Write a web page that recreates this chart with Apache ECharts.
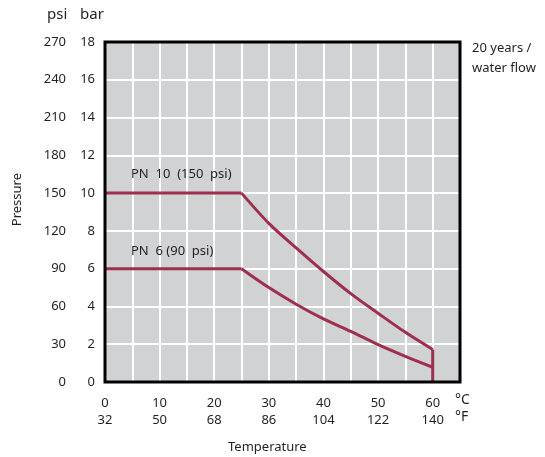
<!DOCTYPE html>
<html>
<head>
<meta charset="utf-8">
<script src="https://cdn.jsdelivr.net/npm/echarts@6/dist/echarts.min.js"></script>
<style>
    html, body { margin: 0; padding: 0; background: #fff; }
    #chart { width: 545px; height: 457px; }
</style>
</head>
<body>
<div id="chart"></div>
<script>
    // temperature (°C) and allowed pressure (bar)
    const tempC = [0, 25, 30, 35, 40, 45, 50, 55, 60];
    const pn10Bar = [10, 10, 8.4, 7.1, 5.85, 4.68, 3.64, 2.63, 1.72];
    const pn6Bar = [6, 6, 5.0, 4.12, 3.34, 2.68, 1.98, 1.36, 0.78];

    // tick labels
    const celsiusTicks = [0, 10, 20, 30, 40, 50, 60];
    const fahrenheitTicks = [32, 50, 68, 86, 104, 122, 140];
    const barTicks = [0, 2, 4, 6, 8, 10, 12, 14, 16, 18];
    const psiTicks = [0, 30, 60, 90, 120, 150, 180, 210, 240, 270];

    const lineColor = '#9e2f4e';
    const textColor = '#231f20';
    const font = 'Noto Sans';

    let pn10Data = tempC.map((t, i) => [t, pn10Bar[i]]);
    let pn6Data = tempC.map((t, i) => [t, pn6Bar[i]]);
    let last = tempC.length - 1;

    // flat part straight, falling part smooth
    function part(name, data, smooth) {
        return {
            name: name,
            type: 'line',
            data: data,
            symbol: 'none',
            smooth: smooth,
            lineStyle: { color: lineColor, width: 3 },
            z: 5
        };
    }

    let myChart = echarts.init(document.getElementById('chart'));

    let option = {
        animation: false,
        textStyle: { fontFamily: font, color: textColor },
        grid: {
            left: 105, top: 42, right: 85, bottom: 75,
            show: true,
            backgroundColor: '#d1d2d4',
            borderWidth: 0
        },
        xAxis: {
            type: 'value',
            min: 0, max: 65, interval: 5,
            axisLine: { show: false },
            axisTick: { show: false },
            splitLine: { show: true, lineStyle: { color: '#ffffff', width: 2 } },
            axisLabel: {
                margin: 13,
                fontSize: 13,
                lineHeight: 17,
                color: textColor,
                formatter: (v) => {
                    let i = celsiusTicks.indexOf(v);
                    return i < 0 ? '' : celsiusTicks[i] + '\n' + fahrenheitTicks[i];
                }
            }
        },
        yAxis: [
            {
                type: 'value',
                min: 0, max: 18, interval: 2,
                axisLine: { show: false },
                axisTick: { show: false },
                splitLine: { show: true, lineStyle: { color: '#ffffff', width: 2 } },
                axisLabel: {
                    margin: 10, fontSize: 13, color: textColor,
                    formatter: (v) => barTicks.indexOf(v) < 0 ? '' : String(v)
                }
            },
            {
                type: 'value',
                position: 'left',
                offset: 29,
                min: 0, max: 270, interval: 30,
                axisLine: { show: false },
                axisTick: { show: false },
                splitLine: { show: false },
                axisLabel: {
                    margin: 10, fontSize: 13, color: textColor,
                    formatter: (v) => psiTicks.indexOf(v) < 0 ? '' : String(v)
                }
            }
        ],
        series: [
            part('PN 10', pn10Data.slice(0, 2), false),
            part('PN 10', pn10Data.slice(1), 0.3),
            part('PN 10', [pn10Data[last], [tempC[last], 0]], false),
            part('PN 6', pn6Data.slice(0, 2), false),
            part('PN 6', pn6Data.slice(1), 0.3)
        ],
        graphic: [
            // frame around the plot
            { type: 'rect', shape: { x: 105, y: 42, width: 355, height: 340 },
              style: { fill: 'none', stroke: '#000', lineWidth: 3 }, z: 100 },
            { type: 'text', left: 47, top: 7, style: { text: 'psi', font: '15px "Noto Sans"', fill: textColor } },
            { type: 'text', left: 80, top: 7, style: { text: 'bar', font: '15px "Noto Sans"', fill: textColor } },
            { type: 'text', left: 472, top: 38, style: { text: '20 years /\nwater flow', font: '13px "Noto Sans"', lineHeight: 20, fill: textColor } },
            { type: 'text', left: 131, top: 168, style: { text: 'PN  10  (150  psi)', font: '13px "Noto Sans"', fill: textColor }, z: 50 },
            { type: 'text', left: 131, top: 245, style: { text: 'PN  6 (90  psi)', font: '13px "Noto Sans"', fill: textColor }, z: 50 },
            { type: 'text', left: 455, top: 393, style: { text: '°C', font: '14px "Noto Sans"', fill: textColor } },
            { type: 'text', left: 455, top: 410, style: { text: '°F', font: '14px "Noto Sans"', fill: textColor } },
            { type: 'text', left: 228, top: 441, style: { text: 'Temperature', font: '13px "Noto Sans"', fill: textColor } },
            { type: 'text', left: 11, top: 173, rotation: Math.PI / 2,
              style: { text: 'Pressure', font: '13px "Noto Sans"', fill: textColor } }
        ]
    };

    myChart.setOption(option);
</script>
</body>
</html>
